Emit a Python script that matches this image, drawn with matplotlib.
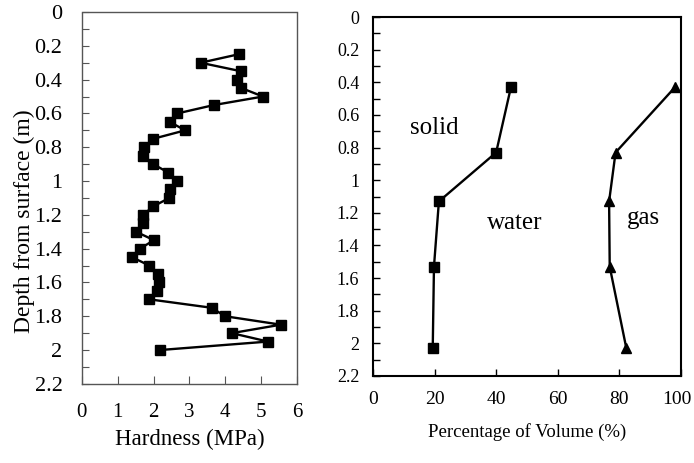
import matplotlib
matplotlib.use("Agg")
import matplotlib.pyplot as plt
import matplotlib.transforms as mtrans
from matplotlib.ticker import MultipleLocator

plt.rcParams['font.family'] = ['Liberation Serif', 'DejaVu Serif']

# Left panel: hardness profile
depth_h = [0.25, 0.30, 0.35, 0.40, 0.45, 0.50, 0.55, 0.60, 0.65, 0.70, 0.75, 0.80,
           0.85, 0.90, 0.95, 1.00, 1.05, 1.10, 1.15, 1.20, 1.25, 1.30, 1.35, 1.40,
           1.45, 1.50, 1.55, 1.60, 1.65, 1.70, 1.75, 1.80, 1.85, 1.90, 1.95, 2.00]
hardness = [4.37, 3.31, 4.43, 4.32, 4.45, 5.05, 3.69, 2.66, 2.45, 2.88, 1.99, 1.74,
            1.71, 1.99, 2.41, 2.66, 2.46, 2.44, 1.99, 1.71, 1.71, 1.51, 2.01, 1.62,
            1.39, 1.88, 2.11, 2.16, 2.10, 1.88, 3.62, 3.99, 5.55, 4.18, 5.19, 2.18]

# Right panel: volume fractions
depth_v = [0.43, 0.83, 1.13, 1.53, 2.03]
solid_pct = [44.8, 40.0, 21.4, 19.8, 19.4]
solid_water_pct = [98.1, 78.8, 76.7, 76.9, 82.3]

ytick_vals = [0, 0.2, 0.4, 0.6, 0.8, 1.0, 1.2, 1.4, 1.6, 1.8, 2.0, 2.2]
ytick_labels = ["0", "0.2", "0.4", "0.6", "0.8", "1", "1.2", "1.4", "1.6", "1.8", "2", "2.2"]
xticks_left = [0, 1, 2, 3, 4, 5, 6]
xticks_right = [0, 20, 40, 60, 80, 100]

fig = plt.figure(figsize=(6.94, 4.63), dpi=100)

# ---------- Left ----------
ax1 = fig.add_axes([0.118, 0.171, 0.310, 0.803])
ax1.plot(hardness, depth_h, color='black', lw=1.7, marker='s', ms=7.2,
         markerfacecolor='black', markeredgecolor='black')
ax1.set_xlim(0, 6)
ax1.set_ylim(2.2, 0)
ax1.set_yticks(ytick_vals)
ax1.set_yticklabels(ytick_labels)
ax1.yaxis.set_minor_locator(MultipleLocator(0.1))
ax1.set_xticks(xticks_left)
ax1.set_xticklabels([str(v) for v in xticks_left])
ax1.tick_params(axis='y', which='both', direction='in', length=5, width=0.8,
                labelsize=16, color='#555555', pad=14)
ax1.tick_params(axis='x', which='both', direction='in', length=6, width=0.8,
                labelsize=15, color='#555555', pad=14)
for s in ax1.spines.values():
    s.set_linestyle((0, (1, 1)))
    s.set_color('#555555')
    s.set_linewidth(1.0)
ax1.set_xlabel("Hardness (MPa)", fontsize=16.5, labelpad=5)
ax1.set_ylabel("Depth from surface (m)", fontsize=17)
ax1.yaxis.set_label_coords(-0.218, 0.438)

# ---------- Right ----------
ax2 = fig.add_axes([0.5375, 0.188, 0.4435, 0.775])
ax2.plot(solid_pct, depth_v, color='black', lw=1.7, marker='s', ms=7.2)
ax2.plot(solid_water_pct, depth_v, color='black', lw=1.7, marker='^', ms=7.5,
         clip_on=False)
ax2.set_xlim(0, 100)
ax2.set_ylim(2.2, 0)
ax2.set_yticks(ytick_vals)
ax2.set_yticklabels(ytick_labels)
ax2.yaxis.set_minor_locator(MultipleLocator(0.1))
ax2.set_xticks(xticks_right)
ax2.set_xticklabels([str(v) for v in xticks_right])
ax2.tick_params(axis='y', which='both', direction='in', length=5, width=1.0,
                labelsize=13, pad=10)
ax2.tick_params(axis='x', which='both', direction='in', length=5, width=1.0,
                labelsize=14, pad=11)
for s in ax2.spines.values():
    s.set_color('black')
    s.set_linewidth(1.5)
ax2.set_xlabel("Percentage of Volume (%)", fontsize=13.5, labelpad=11)

# nudge the last tick label ("100") slightly left so it stays inside the figure
last = ax2.xaxis.get_major_ticks()[-1]
last.label1.set_transform(last.label1.get_transform() +
                          mtrans.ScaledTranslation(-3 / 72, 0, fig.dpi_scale_trans))

ax2.text(20, 0.68, "solid", fontsize=18, ha='center', va='center')
ax2.text(46, 1.26, "water", fontsize=18, ha='center', va='center')
ax2.text(88, 1.23, "gas", fontsize=18, ha='center', va='center')

fig.savefig("out.png", dpi=100)
